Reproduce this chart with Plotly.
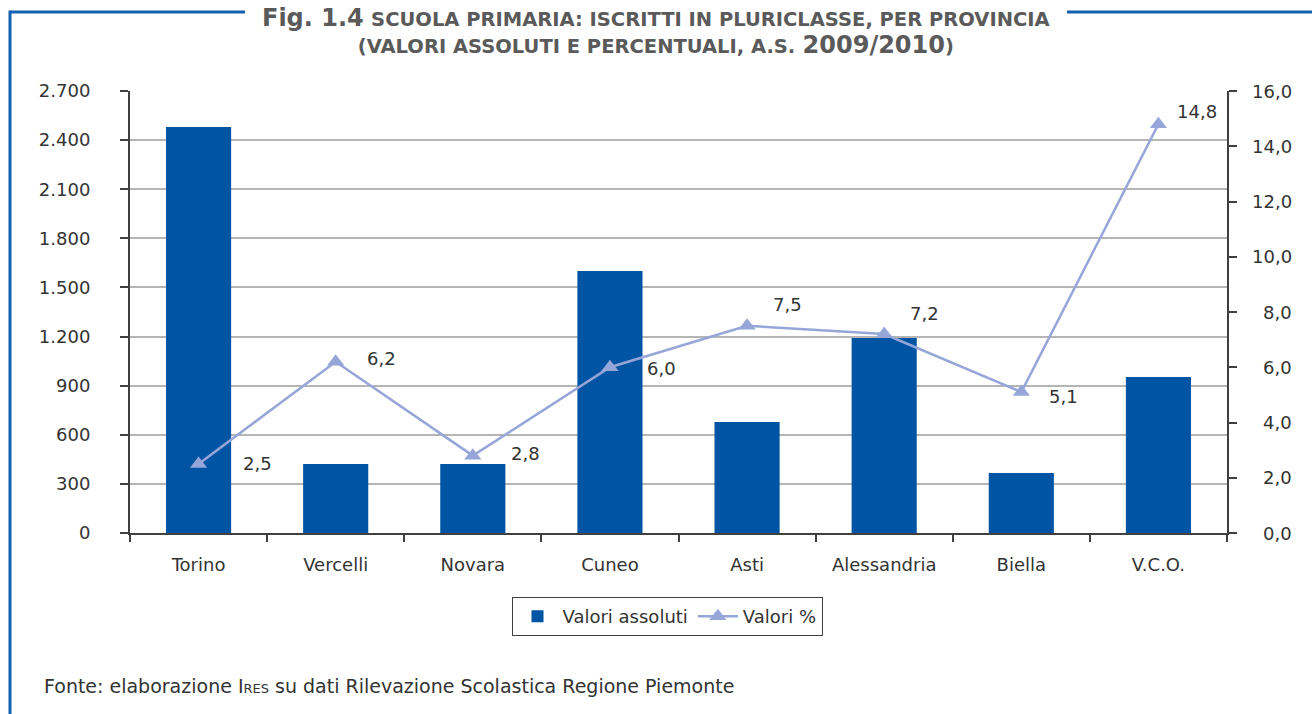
import plotly.graph_objects as go

# ---- data ----
provinces = ["Torino", "Vercelli", "Novara", "Cuneo", "Asti", "Alessandria", "Biella", "V.C.O."]
absolute_values = [2480, 421, 421, 1600, 678, 1191, 367, 953]
percent_values = [2.5, 6.2, 2.8, 6.0, 7.5, 7.2, 5.1, 14.8]
left_ticks = [0, 300, 600, 900, 1200, 1500, 1800, 2100, 2400, 2700]
right_ticks = [0, 2, 4, 6, 8, 10, 12, 14, 16]

# label offsets (styling, pixels)
label_dx = [42, 29, 36, 35, 24, 24, 26, 17]
label_dy = [0, 3, 2, -1, 21, 21, -4, 13]

W, H = 1312, 714
PL, PR, PT, PB = 130, 1227, 91, 533


def px(x):
    return (x - PL) / (PR - PL)


def py(y):
    return (PB - y) / (PB - PT)


BAR = "#0054A4"
LINE = "#97A6D8"
TXT = "#333333"
FONT = "DejaVu Sans"


def it(v):
    return f"{v:,.0f}".replace(",", ".")


def fr(v):
    return f"{v:.1f}".replace(".", ",")


fig = go.Figure()
fig.add_trace(go.Bar(
    x=provinces, y=absolute_values, name="Valori assoluti",
    marker=dict(color=BAR, line=dict(width=0)), yaxis="y",
))
fig.add_trace(go.Scatter(
    x=provinces, y=percent_values, name="Valori %", yaxis="y2",
    mode="lines+markers",
    line=dict(color=LINE, width=2.5),
    marker=dict(symbol="triangle-up", size=15, color=LINE),
))

annotations = []
for p, v, dx, dy in zip(provinces, percent_values, label_dx, label_dy):
    annotations.append(dict(
        x=p, y=v, xref="x", yref="y2", text=fr(v), showarrow=False,
        xanchor="left", yanchor="middle", xshift=dx, yshift=dy,
        font=dict(family=FONT, size=18, color=TXT),
    ))

for t in right_ticks:
    annotations.append(dict(
        x=1, y=t, xref="paper", yref="y2", text=fr(t), showarrow=False,
        xanchor="right", yanchor="middle", xshift=67,
        font=dict(family=FONT, size=18, color=TXT),
    ))

# title
sc = "font-size:19.5px"
big = "font-size:24px"
annotations.append(dict(
    x=px(656), y=py(2), xref="paper", yref="paper", yanchor="top", xanchor="center",
    showarrow=False, align="center",
    text=("<b><span style='%s'>Fig. 1.4</span> <span style='%s'>SCUOLA PRIMARIA: ISCRITTI IN PLURICLASSE, PER PROVINCIA</span><br>"
          "<span style='%s'>(VALORI ASSOLUTI E PERCENTUALI, A.S.</span> <span style='%s'>2009/2010</span><span style='%s'>)</span></b>")
         % (big, sc, sc, big, sc),
    font=dict(family="DejaVu Sans", size=21, color="#5a5a5a"),
))

# footer
annotations.append(dict(
    x=px(42), y=py(686), xref="paper", yref="paper", xanchor="left", yanchor="middle",
    showarrow=False,
    text="Fonte: elaborazione I<span style='font-size:13px'>RES</span> su dati Rilevazione Scolastica Regione Piemonte",
    font=dict(family=FONT, size=19, color=TXT),
))

shapes = [
    dict(type="line", xref="paper", yref="paper", x0=px(10), x1=px(245), y0=py(12), y1=py(12),
         line=dict(color="#1560B0", width=3)),
    dict(type="line", xref="paper", yref="paper", x0=px(1067), x1=px(1312), y0=py(12), y1=py(12),
         line=dict(color="#1560B0", width=3)),
    dict(type="line", xref="paper", yref="paper", x0=px(10), x1=px(10), y0=py(10.5), y1=py(714),
         line=dict(color="#1560B0", width=3)),
]

fig.update_layout(
    width=W, height=H,
    margin=dict(l=PL, r=W - PR, t=PT, b=H - PB, autoexpand=False),
    paper_bgcolor="white", plot_bgcolor="white",
    separators=",.",
    bargap=0.525,
    font=dict(family=FONT, size=18, color=TXT),
    xaxis=dict(
        type="category", tickson="boundaries", ticks="outside", ticklen=7,
        tickcolor="#404040", tickwidth=1.5,
        showline=True, linecolor="#404040", linewidth=2,
        showgrid=False, tickfont=dict(size=18, color=TXT), ticklabelstandoff=14,
    ),
    yaxis=dict(
        range=[0, 2700], tickvals=left_ticks, ticktext=[it(t) for t in left_ticks],
        ticks="outside", ticklen=8, tickcolor="#404040", tickwidth=1.5,
        showline=True, linecolor="#404040", linewidth=2,
        showgrid=True, gridcolor="#b5b5b5", gridwidth=1.5, zeroline=False,
        tickfont=dict(size=18, color=TXT), ticklabelstandoff=26,
    ),
    yaxis2=dict(
        range=[0, 16], tickvals=right_ticks, overlaying="y", side="right",
        ticks="outside", ticklen=8, tickcolor="#404040", tickwidth=1.5,
        showline=True, linecolor="#404040", linewidth=2,
        showgrid=False, zeroline=False, showticklabels=False,
    ),
    legend=dict(
        orientation="h", x=px(667), xanchor="center", y=py(597), yanchor="top",
        bordercolor="#404040", borderwidth=1, bgcolor="white",
        font=dict(family=FONT, size=18, color=TXT),
        itemwidth=40,
    ),
    showlegend=True,
    annotations=annotations,
    shapes=shapes,
)

fig.write_html("out.html", config={"displayModeBar": False},
               post_script="document.body.style.margin='0';document.body.style.overflow='hidden';")
